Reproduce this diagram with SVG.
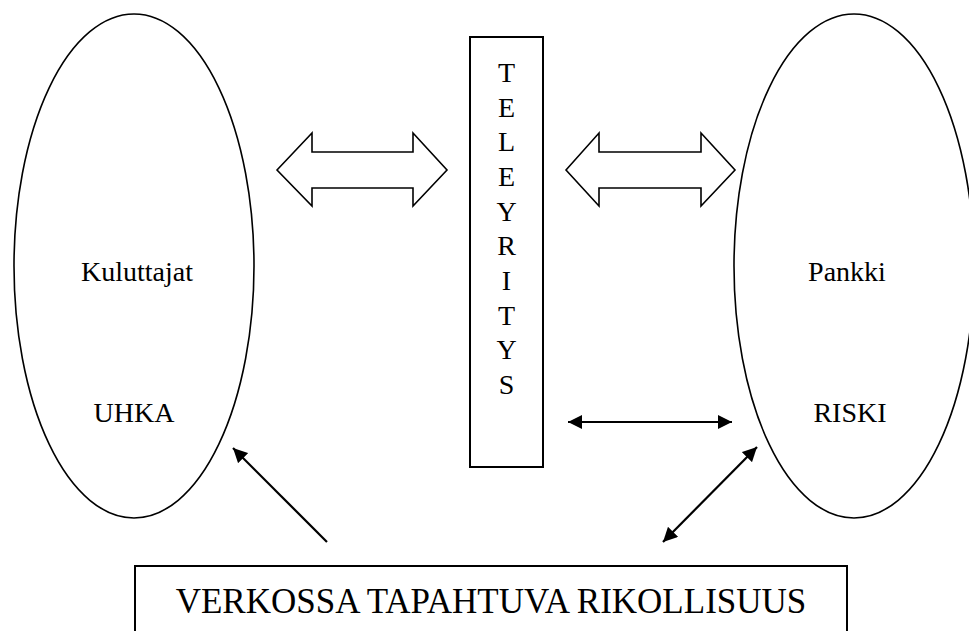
<svg xmlns="http://www.w3.org/2000/svg" width="969" height="631" viewBox="0 0 969 631">
<style>
.shape{fill:#fff;stroke:#000;stroke-width:1.6}
.box{fill:#fff;stroke:#000;stroke-width:2}
.txt{font-family:"Liberation Serif","Times New Roman",serif;font-size:28px;fill:#000;text-anchor:middle}
.big{font-size:35px}
.conn{stroke:#000;stroke-width:2.2;fill:none}
</style>
<defs>
<marker id="ah" viewBox="0 0 10 10" refX="10" refY="5" markerWidth="6.5" markerHeight="6.5" markerUnits="strokeWidth" orient="auto-start-reverse">
<path d="M0,0 L10,5 L0,10 Z" fill="#000"/>
</marker>
</defs>
<g id="kuluttajat">
<ellipse class="shape" cx="134" cy="266" rx="120" ry="252"/>
<text class="txt" x="137" y="281">Kuluttajat</text>
<text class="txt" x="134" y="422">UHKA</text>
</g>
<g id="pankki">
<ellipse class="shape" cx="854" cy="266" rx="120" ry="252"/>
<text class="txt" x="847" y="281">Pankki</text>
<text class="txt" x="850" y="422">RISKI</text>
</g>
<g id="teleyritys">
<rect class="box" x="470" y="37" width="73" height="430"/>
<text class="txt" x="506.5" y="82">T</text>
<text class="txt" x="506.5" y="117">E</text>
<text class="txt" x="506.5" y="151">L</text>
<text class="txt" x="506.5" y="186">E</text>
<text class="txt" x="506.5" y="221">Y</text>
<text class="txt" x="506.5" y="255">R</text>
<text class="txt" x="506.5" y="290">I</text>
<text class="txt" x="506.5" y="325">T</text>
<text class="txt" x="506.5" y="359">Y</text>
<text class="txt" x="506.5" y="394">S</text>
</g>
<g id="rikollisuus">
<rect class="box" x="135" y="566" width="712" height="80"/>
<text class="txt big" x="491" y="613">VERKOSSA TAPAHTUVA RIKOLLISUUS</text>
</g>
<g id="connectors">
<path class="shape" d="M277,170 L312,133 L312,152 L413,152 L413,133 L447,170 L413,206 L413,188 L312,188 L312,206 Z"/>
<path class="shape" d="M566,170 L599,133 L599,152 L701,152 L701,133 L735,170 L701,206 L701,188 L599,188 L599,206 Z"/>
<line class="conn" x1="568" y1="422" x2="732" y2="422" marker-start="url(#ah)" marker-end="url(#ah)"/>
<line class="conn" x1="327" y1="542" x2="233" y2="448" marker-end="url(#ah)"/>
<line class="conn" x1="663" y1="542" x2="757" y2="447" marker-start="url(#ah)" marker-end="url(#ah)"/>
</g>
</svg>
